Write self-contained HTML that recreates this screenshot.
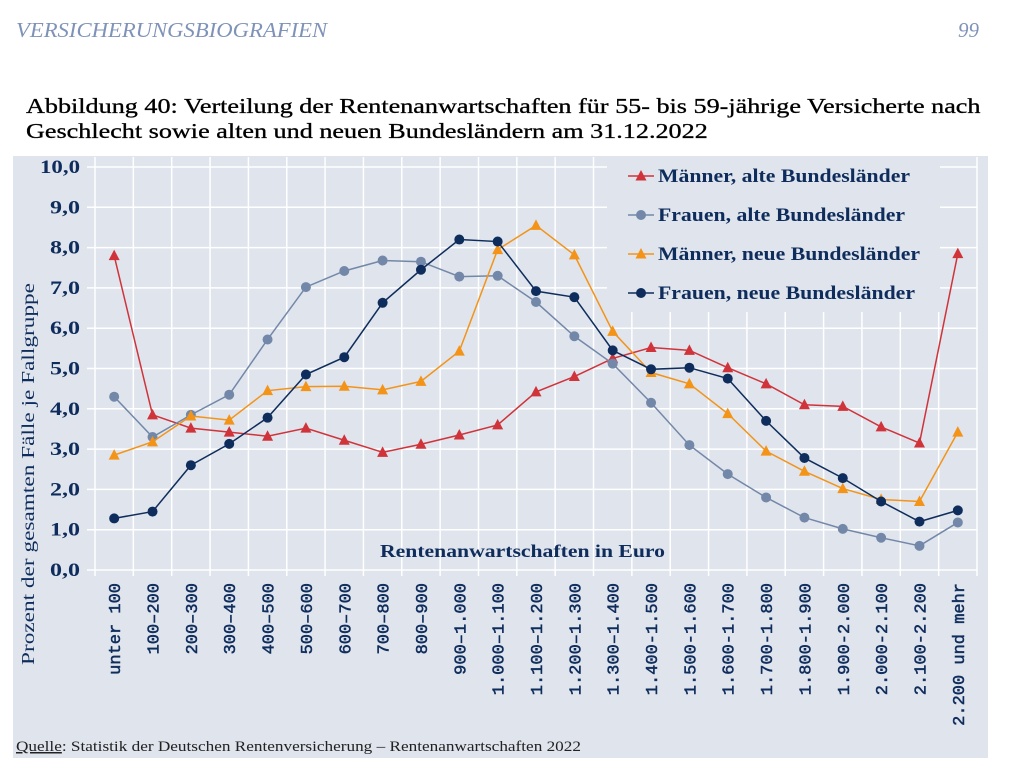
<!DOCTYPE html>
<html><head><meta charset="utf-8"><style>
body{margin:0;background:#fff;width:1013px;height:783px;overflow:hidden;font-family:"Liberation Serif",serif;}
.hdr{position:absolute;top:18px;font-style:italic;color:#7f93b8;font-size:21px;transform-origin:left top;}
.title{position:absolute;left:26px;top:94px;font-size:21px;line-height:25px;color:#000;transform:scaleX(1.245);transform-origin:left top;white-space:nowrap;-webkit-text-stroke:0.3px #000;}
</style></head><body>
<div class="hdr" style="left:16px;transform:scaleX(1.08);">VERSICHERUNGSBIOGRAFIEN</div>
<div class="hdr" style="left:958px;">99</div>
<div class="title">Abbildung 40: Verteilung der Rentenanwartschaften für 55- bis 59-jährige Versicherte nach<br>Geschlecht sowie alten und neuen Bundesländern am 31.12.2022</div>
<svg id="chart" width="1013" height="783" style="position:absolute;left:0;top:0" xmlns="http://www.w3.org/2000/svg"></svg>
<script>
const categories=["unter 100","100–200","200–300","300–400","400–500","500–600","600–700","700–800","800–900","900–1.000","1.000–1.100","1.100–1.200","1.200–1.300","1.300–1.400","1.400-1.500","1.500-1.600","1.600-1.700","1.700-1.800","1.800-1.900","1.900-2.000","2.000-2.100","2.100-2.200","2.200 und mehr"];
const maennerAlt=[7.8,3.85,3.52,3.42,3.32,3.52,3.22,2.92,3.12,3.35,3.6,4.42,4.8,5.25,5.52,5.45,5.02,4.62,4.1,4.06,3.55,3.15,7.85];
const frauenAlt=[4.3,3.3,3.85,4.35,5.72,7.02,7.42,7.68,7.65,7.28,7.3,6.65,5.8,5.12,4.15,3.1,2.38,1.8,1.3,1.02,0.8,0.6,1.18];
const maennerNeu=[2.85,3.18,3.82,3.72,4.45,4.55,4.56,4.47,4.68,5.43,7.95,8.55,7.82,5.92,4.9,4.62,3.88,2.95,2.45,2.02,1.75,1.7,3.42];
const frauenNeu=[1.28,1.45,2.6,3.13,3.78,4.85,5.28,6.63,7.45,8.2,8.15,6.92,6.77,5.45,4.98,5.02,4.75,3.7,2.78,2.28,1.7,1.2,1.48];
const yTicks=[0,1,2,3,4,5,6,7,8,9,10];
const seriesNames=["Männer, alte Bundesländer","Frauen, alte Bundesländer","Männer, neue Bundesländer","Frauen, neue Bundesländer"];

const NS="http://www.w3.org/2000/svg";
const svg=document.getElementById('chart');
const L=95,R=977,T=167,B=570,navy="#0f2d5c";
const bw=(R-L)/categories.length;
const x=i=>L+bw*(i+0.5);
const y=v=>B-(v/10)*(B-T);
function mk(t,a,p){const e=document.createElementNS(NS,t);for(const k in a)e.setAttribute(k,a[k]);(p||svg).appendChild(e);return e;}

const bg=mk('rect',{x:13,y:156,width:975,height:602,fill:'#dfe4ed'});


yTicks.forEach(t=>{
  const g=mk('line',{x1:L-8,x2:R,y1:y(t),y2:y(t),stroke:'#fff','stroke-width':1.5});
  
  
  const s=t.toFixed(1).replace('.',',');
  const tx=mk('text',{x:80,y:y(t)+6,'text-anchor':'end','font-size':19,'font-weight':'bold',fill:navy,'font-family':'Liberation Serif,serif',textLength:s.length*10,lengthAdjust:'spacingAndGlyphs'});
  tx.textContent=s;
  
  
});
for(let i=0;i<=categories.length;i++){
  const g=mk('line',{x1:L+bw*i,x2:L+bw*i,y1:T-10,y2:B+6,stroke:'#fff','stroke-width':1.5});
  
  
}
categories.forEach((c,i)=>{
  const tx=mk('text',{transform:`translate(${x(i)+6},583) rotate(-90)`,'text-anchor':'end','font-size':17,fill:navy,stroke:navy,'stroke-width':0.5,'font-family':'Liberation Mono,monospace'});
  tx.textContent=c;
  
  
});
const yt=mk('text',{transform:'translate(34,474) rotate(-90)','text-anchor':'middle','font-size':18,fill:navy,'font-family':'Liberation Serif,serif',textLength:382,lengthAdjust:'spacingAndGlyphs'});
yt.textContent='Prozent der gesamten Fälle je Fallgruppe';


const xt=mk('text',{x:380,y:557,'font-size':18,'font-weight':'bold',fill:navy,'font-family':'Liberation Serif,serif',textLength:285,lengthAdjust:'spacingAndGlyphs'});
xt.textContent='Rentenanwartschaften in Euro';



const cfg=[[maennerAlt,'#d0333a','tri'],[frauenAlt,'#7388a8','dot'],[maennerNeu,'#f39419','tri'],[frauenNeu,'#0f2d5c','dot']];
function marker(cx,cy,col,kind,name){
  let m;
  if(kind==='tri')m=mk('polygon',{points:`${cx},${cy-6} ${cx-5.5},${cy+4.5} ${cx+5.5},${cy+4.5}`,fill:col});
  else m=mk('circle',{cx:cx,cy:cy,r:5,fill:col});
  
  
}
cfg.forEach(([d,col,kind],s)=>{
  const p=mk('polyline',{points:d.map((v,i)=>x(i)+','+y(v)).join(' '),fill:'none',stroke:col,'stroke-width':1.5});
  
  
  d.forEach((v,i)=>marker(x(i),y(v),col,kind,'data-point'));
});
const lg=mk('rect',{x:607,y:157,width:333,height:155,fill:'#dfe4ed'});


const legendWidths=[252,247,262,257];
cfg.forEach(([d,col,kind],s)=>{
  const ly=176+s*39;
  const l=mk('line',{x1:628,x2:654,y1:ly,y2:ly,stroke:col,'stroke-width':1.5});
  
  
  marker(641,ly,col,kind,'legend-marker');
  const t=mk('text',{x:658,y:ly+6,'font-size':19,'font-weight':'bold',fill:navy,'font-family':'Liberation Serif,serif',textLength:legendWidths[s],lengthAdjust:'spacingAndGlyphs'});
  t.textContent=seriesNames[s];
  
  
});
const q=mk('text',{x:16,y:751,'font-size':15,fill:'#222','font-family':'Liberation Serif,serif',textLength:565,lengthAdjust:'spacingAndGlyphs'});
q.innerHTML='<tspan text-decoration="underline">Quelle</tspan>: Statistik der Deutschen Rentenversicherung – Rentenanwartschaften 2022';


</script>
</body></html>
